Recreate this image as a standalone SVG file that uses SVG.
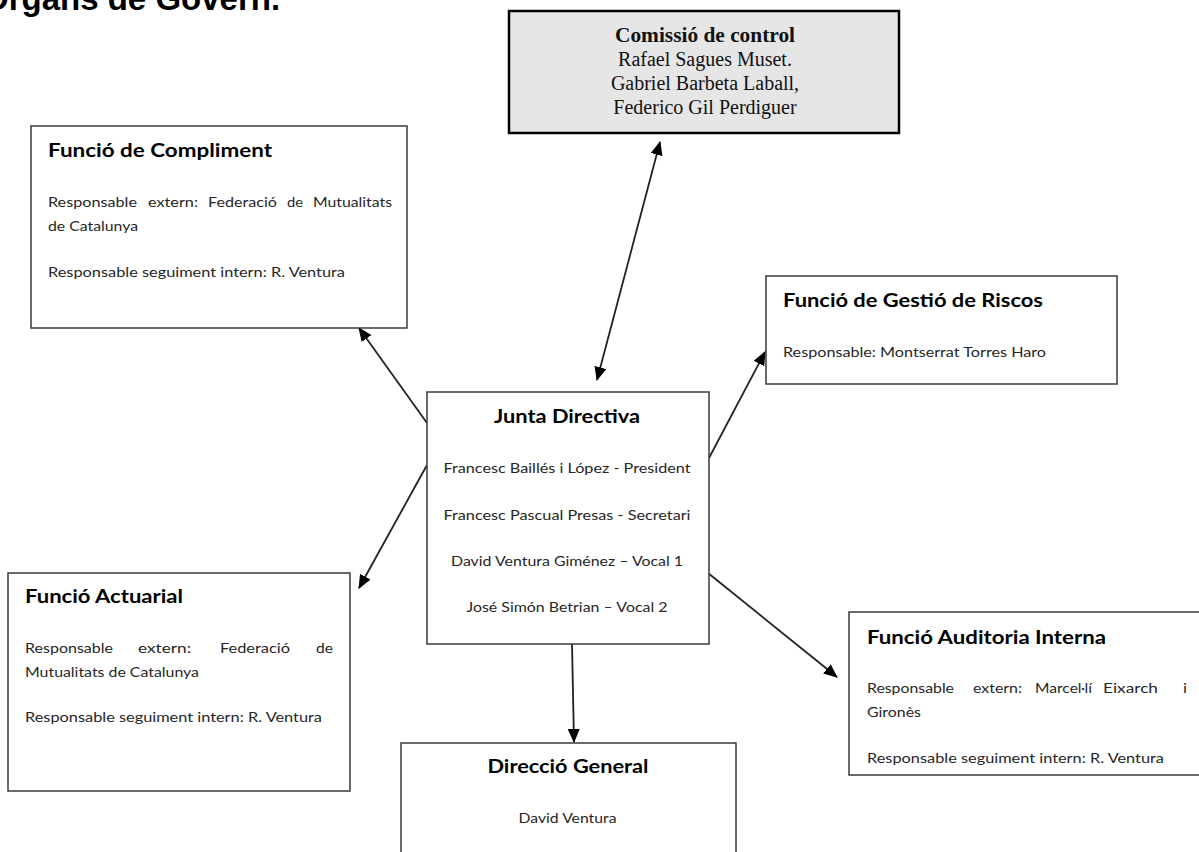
<svg xmlns="http://www.w3.org/2000/svg" width="1199" height="852" viewBox="0 0 1199 852">
<style>
.box{fill:#fff;stroke:#3a3a3a;stroke-width:1.5}
.gray{fill:#e6e6e6;stroke:#000;stroke-width:2.5}
.t{font-family:Lato,"Open Sans","Liberation Sans",sans-serif;font-weight:bold;font-size:19px;fill:#000}
.b{font-family:Lato,"Open Sans","Liberation Sans",sans-serif;font-size:14px;fill:#262626}
.s{font-family:"Liberation Serif","Times New Roman",serif;font-size:20px;fill:#111;text-anchor:middle}
.sb{font-weight:bold}
.c{text-anchor:middle}
.ln{stroke:#222;stroke-width:1.8;fill:none}
.h{font-family:"Liberation Sans",Arial,sans-serif;font-weight:bold;font-size:33px;fill:#000}
</style>
<defs>
<marker id="ah" markerUnits="userSpaceOnUse" markerWidth="14" markerHeight="12" refX="13" refY="6" orient="auto-start-reverse" viewBox="0 0 14 12">
<path d="M0,0 L14,6 L0,12 Z" fill="#000"/>
</marker>
</defs>
<rect width="1199" height="852" fill="#fff"/>
<text class="h" x="-17" y="10">Òrgans de Govern.</text>

<g id="connectors">
<line class="ln" x1="597" y1="380" x2="660" y2="142" marker-start="url(#ah)" marker-end="url(#ah)"/>
<line class="ln" x1="427" y1="423" x2="359" y2="328" marker-end="url(#ah)"/>
<line class="ln" x1="427" y1="465" x2="359" y2="588" marker-end="url(#ah)"/>
<line class="ln" x1="709" y1="458" x2="765" y2="352" marker-end="url(#ah)"/>
<line class="ln" x1="708" y1="573" x2="837" y2="677" marker-end="url(#ah)"/>
<line class="ln" x1="572" y1="644" x2="574" y2="742" marker-end="url(#ah)"/>
</g>

<g id="comissio">
<rect class="gray" x="509" y="11" width="390" height="122"/>
<text class="s sb" x="705" y="42" textLength="180" lengthAdjust="spacingAndGlyphs">Comissió de control</text>
<text class="s" x="705" y="66">Rafael Sagues Muset.</text>
<text class="s" x="705" y="90">Gabriel Barbeta Laball,</text>
<text class="s" x="705" y="114">Federico Gil Perdiguer</text>
</g>

<g id="compliment">
<rect class="box" x="31" y="126" width="376" height="202"/>
<text class="t" x="48" y="157" textLength="224" lengthAdjust="spacingAndGlyphs">Funció de Compliment</text>
<text class="b" y="207"><tspan x="48" textLength="89" lengthAdjust="spacingAndGlyphs">Responsable</tspan><tspan x="148" textLength="50" lengthAdjust="spacingAndGlyphs">extern:</tspan><tspan x="208" textLength="69" lengthAdjust="spacingAndGlyphs">Federació</tspan><tspan x="287" textLength="16" lengthAdjust="spacingAndGlyphs">de</tspan><tspan x="313" textLength="79" lengthAdjust="spacingAndGlyphs">Mutualitats</tspan></text>
<text class="b" x="48" y="231" textLength="90" lengthAdjust="spacingAndGlyphs">de Catalunya</text>
<text class="b" x="48" y="277" textLength="297" lengthAdjust="spacingAndGlyphs">Responsable seguiment intern: R. Ventura</text>
</g>

<g id="gestio">
<rect class="box" x="766" y="276" width="351" height="108"/>
<text class="t" x="783" y="307" textLength="260" lengthAdjust="spacingAndGlyphs">Funció de Gestió de Riscos</text>
<text class="b" x="783" y="357" textLength="263" lengthAdjust="spacingAndGlyphs">Responsable: Montserrat Torres Haro</text>
</g>

<g id="junta">
<rect class="box" x="427" y="392" width="282" height="252"/>
<text class="t c" x="567" y="423" textLength="146" lengthAdjust="spacingAndGlyphs">Junta Directiva</text>
<text class="b c" x="567" y="473" textLength="247" lengthAdjust="spacingAndGlyphs">Francesc Baillés i López - President</text>
<text class="b c" x="567" y="520" textLength="247" lengthAdjust="spacingAndGlyphs">Francesc Pascual Presas - Secretari</text>
<text class="b c" x="567" y="566" textLength="232" lengthAdjust="spacingAndGlyphs">David Ventura Giménez – Vocal 1</text>
<text class="b c" x="567" y="612" textLength="201" lengthAdjust="spacingAndGlyphs">José Simón Betrian – Vocal 2</text>
</g>

<g id="actuarial">
<rect class="box" x="8" y="573" width="342" height="218"/>
<text class="t" x="25" y="603" textLength="158" lengthAdjust="spacingAndGlyphs">Funció Actuarial</text>
<text class="b" y="653"><tspan x="25" textLength="88" lengthAdjust="spacingAndGlyphs">Responsable</tspan><tspan x="138" textLength="53" lengthAdjust="spacingAndGlyphs">extern:</tspan><tspan x="220" textLength="70" lengthAdjust="spacingAndGlyphs">Federació</tspan><tspan x="316" textLength="17" lengthAdjust="spacingAndGlyphs">de</tspan></text>
<text class="b" x="25" y="677" textLength="174" lengthAdjust="spacingAndGlyphs">Mutualitats de Catalunya</text>
<text class="b" x="25" y="722" textLength="297" lengthAdjust="spacingAndGlyphs">Responsable seguiment intern: R. Ventura</text>
</g>

<g id="direccio">
<rect class="box" x="401" y="743" width="335" height="130"/>
<text class="t c" x="568" y="773" textLength="161" lengthAdjust="spacingAndGlyphs">Direcció General</text>
<text class="b c" x="567.5" y="823" textLength="98" lengthAdjust="spacingAndGlyphs">David Ventura</text>
</g>

<g id="auditoria">
<rect class="box" x="849" y="612" width="360" height="163"/>
<text class="t" x="867" y="644" textLength="239" lengthAdjust="spacingAndGlyphs">Funció Auditoria Interna</text>
<text class="b" y="693"><tspan x="867" textLength="87" lengthAdjust="spacingAndGlyphs">Responsable</tspan><tspan x="973" textLength="49" lengthAdjust="spacingAndGlyphs">extern:</tspan><tspan x="1035" textLength="57" lengthAdjust="spacingAndGlyphs">Marcel·lí</tspan><tspan x="1103" textLength="55" lengthAdjust="spacingAndGlyphs">Eixarch</tspan><tspan x="1183" textLength="4" lengthAdjust="spacingAndGlyphs">i</tspan></text>
<text class="b" x="867" y="717" textLength="54" lengthAdjust="spacingAndGlyphs">Gironès</text>
<text class="b" x="867" y="763" textLength="297" lengthAdjust="spacingAndGlyphs">Responsable seguiment intern: R. Ventura</text>
</g>
</svg>
